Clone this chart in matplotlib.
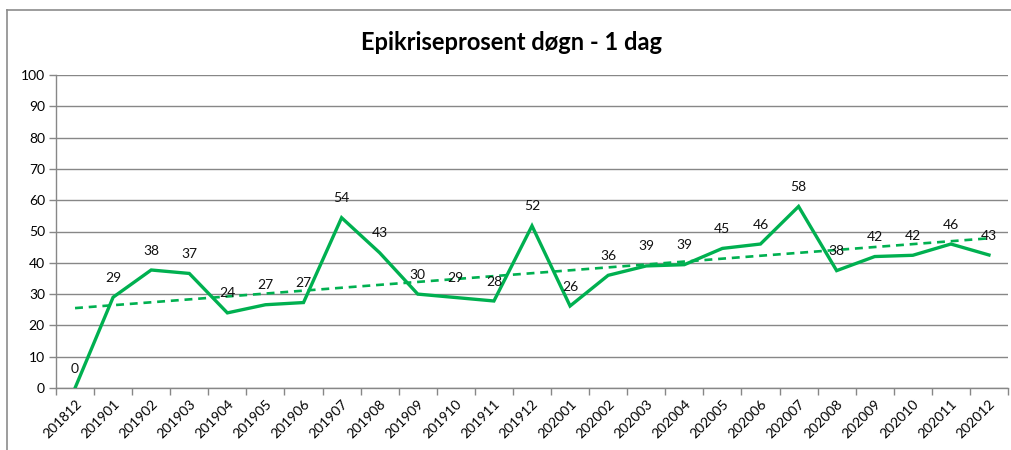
import numpy as np
import matplotlib
matplotlib.use("Agg")
import matplotlib.pyplot as plt
from matplotlib.lines import Line2D

plt.rcParams['font.family'] = ['Lato', 'DejaVu Sans']

months = ["201812", "201901", "201902", "201903", "201904", "201905", "201906",
          "201907", "201908", "201909", "201910", "201911", "201912",
          "202001", "202002", "202003", "202004", "202005", "202006",
          "202007", "202008", "202009", "202010", "202011", "202012"]
values = [0, 29, 37.7, 36.6, 24, 26.6, 27.3, 54.4, 43.2, 30, 28.9, 27.8, 51.8,
          26.2, 36, 39, 39.4, 44.6, 46, 58, 37.5, 42, 42.4, 46, 42.5]
labels = [0, 29, 38, 37, 24, 27, 27, 54, 43, 30, 29, 28, 52,
          26, 36, 39, 39, 45, 46, 58, 38, 42, 42, 46, 43]

green = "#00B050"
grid_col = "#878787"

fig = plt.figure(figsize=(10.12, 4.5), dpi=100)
ax = fig.add_axes([56 / 1012, 62 / 450, 952 / 1012, 313 / 450])

x = np.arange(len(months))
ax.plot(x, values, color=green, lw=2.4, solid_joinstyle='miter', zorder=3)

# linear trend line
k, m = np.polyfit(x, values, 1)
ax.plot(x, k * x + m, color=green, lw=1.9, ls=(0, (3, 2.2)), zorder=2)

for xi, v, lab in zip(x, values, labels):
    ax.annotate(str(lab), (xi, v), xytext=(0, 14), textcoords='offset points',
                ha='center', va='center', fontsize=10, color='#111111', zorder=4)

ax.set_xlim(-0.5, len(months) - 0.5)
ax.set_ylim(0, 100)
ax.set_yticks(range(0, 101, 10))
ax.yaxis.grid(True, color=grid_col, lw=1.0)
ax.set_axisbelow(True)

ax.set_xticks(x)
ax.set_xticklabels(months, rotation=45, ha='right', rotation_mode='anchor', fontsize=10)
ax.set_xticks(np.arange(-0.5, len(months)), minor=True)
ax.tick_params(axis='x', which='major', length=0, pad=7)
ax.tick_params(axis='x', which='minor', length=5, color=grid_col, width=1)
ax.tick_params(axis='y', length=5, color=grid_col, width=1, labelsize=10, pad=3)

for s in ['top', 'right']:
    ax.spines[s].set_visible(False)
for s in ['left', 'bottom']:
    ax.spines[s].set_color(grid_col)
    ax.spines[s].set_linewidth(1.0)

fig.text(512 / 1012, 1 - 42 / 450, "Epikriseprosent døgn - 1 dag", ha='center', va='center',
         fontsize=17, fontweight='bold')

# chart frame (top and left edges visible)
fig.add_artist(Line2D([7.5 / 1012, 1], [1 - 9.5 / 450, 1 - 9.5 / 450], color='#8C8C8C', lw=1.2))
fig.add_artist(Line2D([7.5 / 1012, 7.5 / 1012], [0, 1 - 9.5 / 450], color='#8C8C8C', lw=1.2))

fig.savefig("out.png", dpi=100)
